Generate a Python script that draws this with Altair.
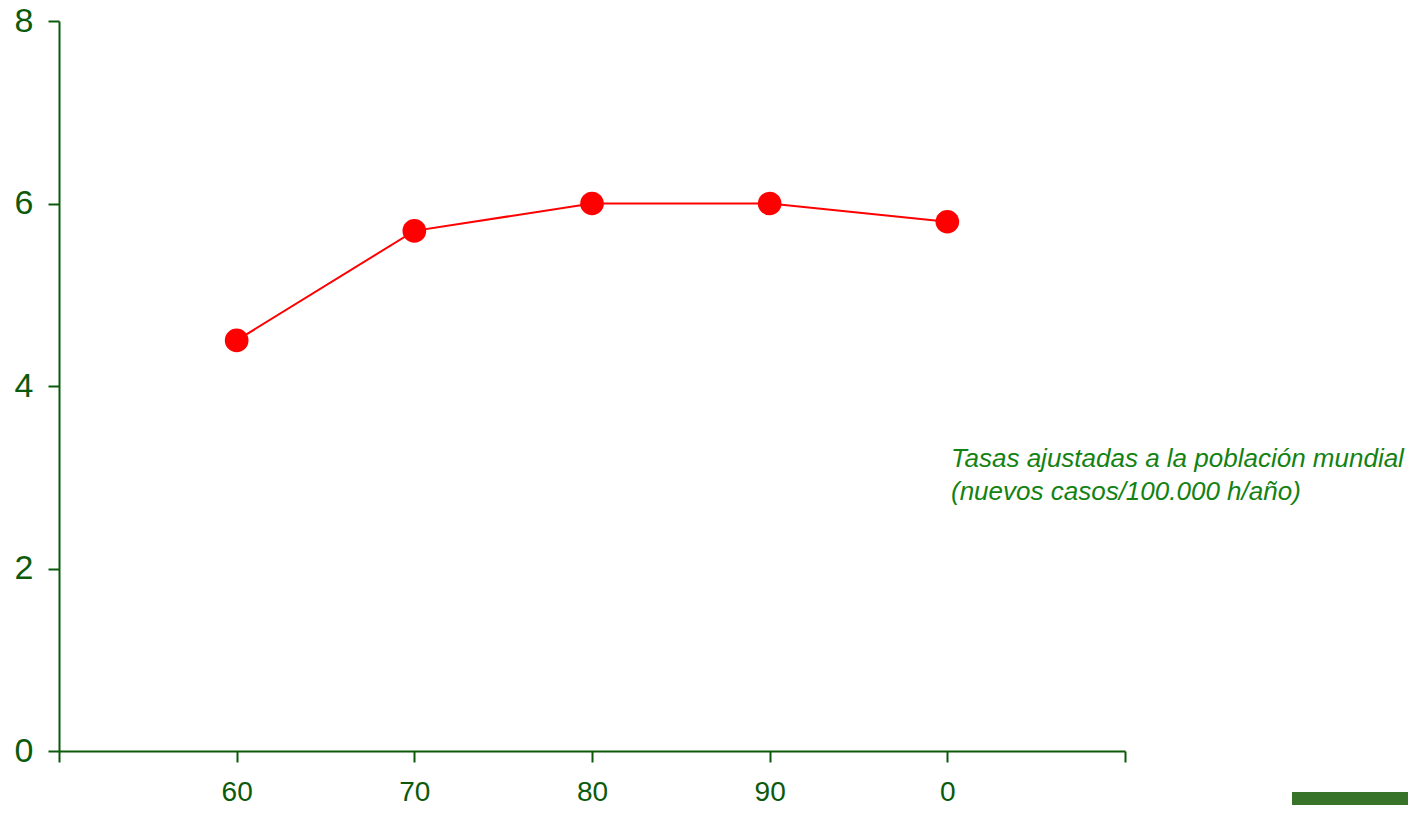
import altair as alt
import pandas as pd

# Data
decades = ["60", "70", "80", "90", "0"]
rates = [4.5, 5.7, 6.0, 6.0, 5.8]
x_domain = ["start", "60", "70", "80", "90", "0", "end"]
y_ticks = [0, 2, 4, 6, 8]
note_lines = ["Tasas ajustadas a la población mundial", "(nuevos casos/100.000 h/año)"]

df = pd.DataFrame({"decade": decades, "rate": rates})

AXIS_GREEN = "#0b5a0b"
NOTE_GREEN = "#138213"
RED = "#ff0000"
FONT = "Liberation Sans"

x_enc = alt.X(
    "decade:O",
    scale=alt.Scale(type="point", domain=x_domain, padding=0),
    axis=alt.Axis(
        title=None,
        labelExpr="datum.label == 'start' || datum.label == 'end' ? '' : datum.label",
        labelAngle=0,
        labelFont=FONT,
        labelFontSize=28,
        labelColor=AXIS_GREEN,
        labelPadding=16,
        domainColor=AXIS_GREEN,
        domainWidth=2,
        tickColor=AXIS_GREEN,
        tickWidth=2,
        tickSize=11,
        grid=False,
    ),
)
y_enc = alt.Y(
    "rate:Q",
    scale=alt.Scale(domain=[0, 8], nice=False),
    axis=alt.Axis(
        title=None,
        values=y_ticks,
        format="d",
        labelFont=FONT,
        labelFontSize=34,
        labelColor=AXIS_GREEN,
        labelPadding=15,
        domainColor=AXIS_GREEN,
        domainWidth=2,
        tickColor=AXIS_GREEN,
        tickWidth=2,
        tickSize=11,
        grid=False,
    ),
)

base = alt.Chart(df)
line = base.mark_line(color=RED, strokeWidth=2).encode(x=x_enc, y=y_enc)
points = base.mark_circle(color=RED, size=560, opacity=1).encode(x="decade:O", y="rate:Q")

note = alt.Chart(pd.DataFrame({"t": [note_lines]})).mark_text(
    align="left",
    baseline="alphabetic",
    font=FONT,
    fontSize=26,
    fontStyle="italic",
    color=NOTE_GREEN,
    lineHeight=33,
).encode(text="t", x=alt.value(892), y=alt.value(446))

deco = alt.Chart(pd.DataFrame({"k": [1]})).mark_rect(color="#377328").encode(
    x=alt.value(1233), x2=alt.value(1349), y=alt.value(771), y2=alt.value(784)
)

chart = alt.layer(line, points, note, deco).properties(
    width=1066,
    height=730,
    background="white",
    autosize=alt.AutoSizeParams(type="none"),
    padding={"left": 51, "top": 13, "right": 283, "bottom": 54},
).configure_view(strokeWidth=0, stroke="transparent")

chart.save("out.html", embed_options={"renderer": "svg", "actions": False})
